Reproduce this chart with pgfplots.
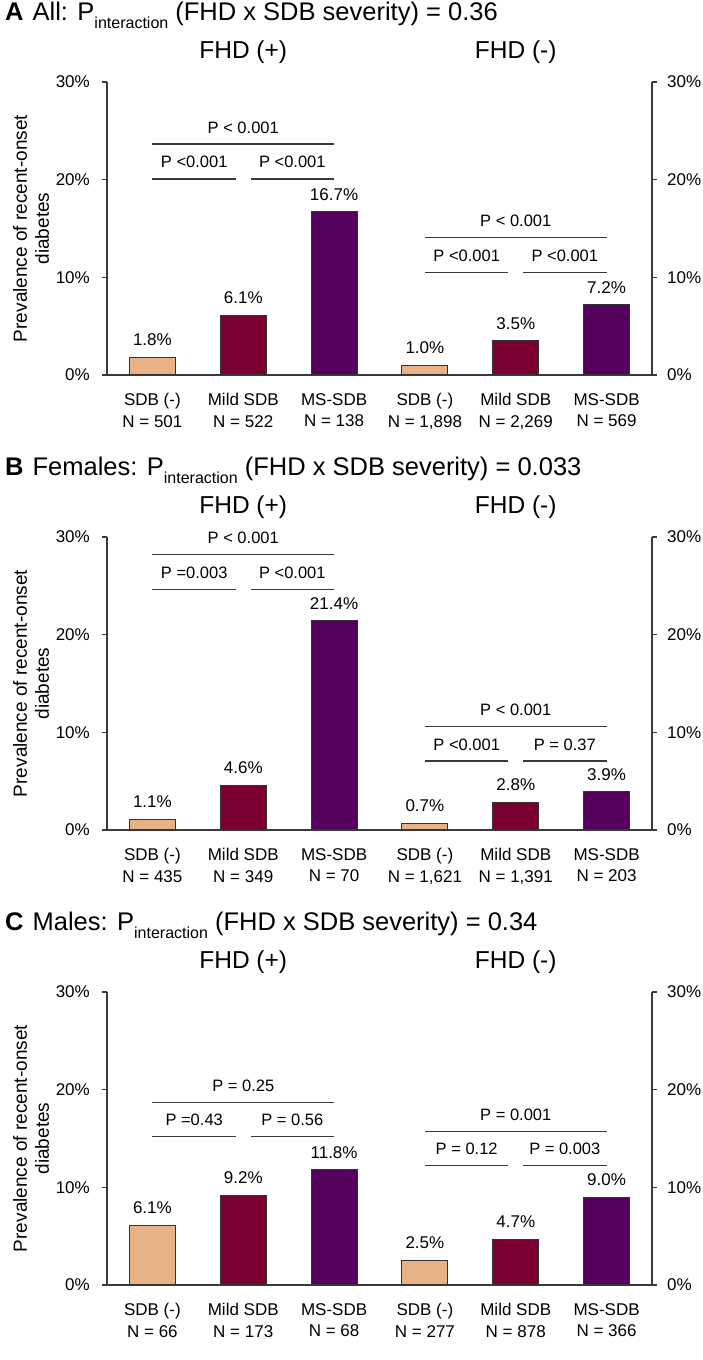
\documentclass[border=0pt]{standalone}
\usepackage{fontspec}
\setmainfont{Liberation Sans}
\usepackage{pgfplots}
\pgfplotsset{compat=1.18}

\definecolor{sdbneg}{HTML}{E6B286}
\definecolor{sdbmild}{HTML}{7D0032}
\definecolor{sdbms}{HTML}{56005E}
\definecolor{axisgray}{HTML}{3A3A3A}

\newcommand{\tickfont}{\fontsize{17}{21.5}\selectfont}
\newcommand{\pfont}{\fontsize{16.5}{20}\selectfont}
\newcommand{\headfont}{\fontsize{24.5}{28}\selectfont}
\newcommand{\titlefont}{\fontsize{25.5}{28}\selectfont}
\newcommand{\labfont}{\fontsize{19}{22}\selectfont}
\newcommand{\subfont}{\fontsize{16}{18}\selectfont}

% significance line with its p value above
\newcommand{\sig}[4]{%
  \draw[axisgray, line width=1.1pt] (axis cs:#1,#3) -- (axis cs:#2,#3)
    node[midway, anchor=base, yshift=11pt, inner sep=0pt, font=\pfont, text=black] {#4};}

\pgfplotsset{
  /pgf/number format/assume math mode=true,
  frame/.style={
    scale only axis, width=545pt, height=293pt,
    xmin=-0.5, xmax=5.5, ymin=0, ymax=30,
    axis line style={axisgray, line width=1.2pt},
    tick align=outside, major tick length=5pt,
    ytick={0,10,20,30},
    yticklabel={\pgfmathprintnumber{\tick}\%},
    ytick style={axisgray, line width=1.2pt},
    yticklabel style={font=\tickfont, inner sep=0pt},
  },
  panel/.style={
    frame,
    axis x line*=bottom, axis y line*=left,
    yticklabel style={xshift=-12pt},
    xtick={0,...,5},
    xtick style={draw=none},
    xticklabel style={align=center, font=\tickfont, anchor=north, inner sep=0pt, yshift=-13pt},
    clip=false,
    ylabel={Prevalence of recent-onset\\diabetes},
    every axis y label/.style={at={(rel axis cs:0,0.5)}, xshift=-76pt, rotate=90, anchor=center,
      align=center, font=\labfont},
    point meta=y,
    nodes near coords={\pgfmathprintnumber[fixed,fixed zerofill,precision=1]{\pgfplotspointmeta}\%},
    every node near coord/.append style={font=\tickfont, anchor=south, inner sep=0pt, yshift=11pt, text=black},
  },
  rightframe/.style={
    frame,
    axis x line=none, axis y line*=right,
    yticklabel style={xshift=10pt},
  },
  bar/.style={ybar, bar width=46pt, bar shift=0pt, draw=black!80, line width=1pt, fill=#1},
}

\begin{document}
\begin{tikzpicture}
\useasboundingbox (0,0) rectangle (703pt,1360pt);

% ---------- A: all ----------
\begin{axis}[panel, at={(107pt,985pt)}, anchor=south west,
  xticklabels={{SDB (-)\\N = 501},{Mild SDB\\N = 522},{MS-SDB\\N = 138},
               {SDB (-)\\N = 1,898},{Mild SDB\\N = 2,269},{MS-SDB\\N = 569}}]
\addplot[bar=sdbneg]  coordinates {(0,1.8) (3,1.0)};
\addplot[bar=sdbmild] coordinates {(1,6.1) (4,3.5)};
\addplot[bar=sdbms]   coordinates {(2,16.7) (5,7.2)};
\sig{0}{0.92}{20.07}{P <0.001}
\sig{1.08}{2}{20.07}{P <0.001}
\sig{0}{2}{23.65}{P < 0.001}
\sig{3}{3.92}{10.46}{P <0.001}
\sig{4.08}{5}{10.46}{P <0.001}
\sig{3}{5}{14.05}{P < 0.001}
\node[anchor=base, font=\headfont] at ([yshift=23pt]axis cs:1,30) {FHD (+)};
\node[anchor=base, font=\headfont] at ([yshift=23pt]axis cs:4,30) {FHD (-)};
\node[anchor=base west, font=\titlefont, inner sep=0pt] at ([xshift=-102pt,yshift=61pt]axis cs:-0.5,30)
  {\textbf{A}\hspace{9pt}All: P\raisebox{-8pt}{\subfont interaction} (FHD x SDB severity) = 0.36};
\end{axis}
\begin{axis}[rightframe, at={(107pt,985pt)}, anchor=south west]
\end{axis}

% ---------- B: females ----------
\begin{axis}[panel, at={(107pt,530pt)}, anchor=south west,
  xticklabels={{SDB (-)\\N = 435},{Mild SDB\\N = 349},{MS-SDB\\N = 70},
               {SDB (-)\\N = 1,621},{Mild SDB\\N = 1,391},{MS-SDB\\N = 203}}]
\addplot[bar=sdbneg]  coordinates {(0,1.1) (3,0.7)};
\addplot[bar=sdbmild] coordinates {(1,4.6) (4,2.8)};
\addplot[bar=sdbms]   coordinates {(2,21.4) (5,3.9)};
\sig{0}{0.92}{24.67}{P =0.003}
\sig{1.08}{2}{24.67}{P <0.001}
\sig{0}{2}{28.25}{P < 0.001}
\sig{3}{3.92}{7.06}{P <0.001}
\sig{4.08}{5}{7.06}{P = 0.37}
\sig{3}{5}{10.64}{P < 0.001}
\node[anchor=base, font=\headfont] at ([yshift=23pt]axis cs:1,30) {FHD (+)};
\node[anchor=base, font=\headfont] at ([yshift=23pt]axis cs:4,30) {FHD (-)};
\node[anchor=base west, font=\titlefont, inner sep=0pt] at ([xshift=-102pt,yshift=61pt]axis cs:-0.5,30)
  {\textbf{B}\hspace{9pt}Females: P\raisebox{-8pt}{\subfont interaction} (FHD x SDB severity) = 0.033};
\end{axis}
\begin{axis}[rightframe, at={(107pt,530pt)}, anchor=south west]
\end{axis}

% ---------- C: males ----------
\begin{axis}[panel, at={(107pt,75pt)}, anchor=south west,
  xticklabels={{SDB (-)\\N = 66},{Mild SDB\\N = 173},{MS-SDB\\N = 68},
               {SDB (-)\\N = 277},{Mild SDB\\N = 878},{MS-SDB\\N = 366}}]
\addplot[bar=sdbneg]  coordinates {(0,6.1) (3,2.5)};
\addplot[bar=sdbmild] coordinates {(1,9.2) (4,4.7)};
\addplot[bar=sdbms]   coordinates {(2,11.8) (5,9.0)};
\sig{0}{0.92}{15.25}{P =0.43}
\sig{1.08}{2}{15.25}{P = 0.56}
\sig{0}{2}{18.73}{P = 0.25}
\sig{3}{3.92}{12.28}{P = 0.12}
\sig{4.08}{5}{12.28}{P = 0.003}
\sig{3}{5}{15.76}{P = 0.001}
\node[anchor=base, font=\headfont] at ([yshift=23pt]axis cs:1,30) {FHD (+)};
\node[anchor=base, font=\headfont] at ([yshift=23pt]axis cs:4,30) {FHD (-)};
\node[anchor=base west, font=\titlefont, inner sep=0pt] at ([xshift=-102pt,yshift=61pt]axis cs:-0.5,30)
  {\textbf{C}\hspace{9pt}Males: P\raisebox{-8pt}{\subfont interaction} (FHD x SDB severity) = 0.34};
\end{axis}
\begin{axis}[rightframe, at={(107pt,75pt)}, anchor=south west]
\end{axis}
\end{tikzpicture}
\end{document}
